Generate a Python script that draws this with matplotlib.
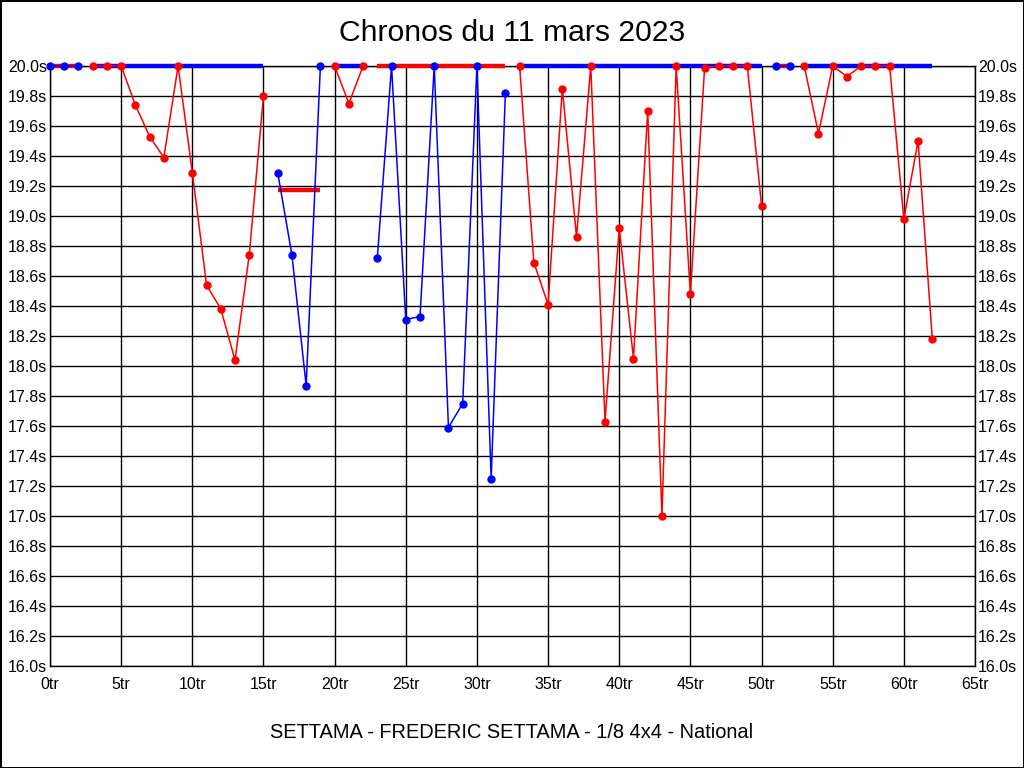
import matplotlib
matplotlib.use('Agg')
import matplotlib.pyplot as plt
import numpy as np
from matplotlib.ticker import MultipleLocator, FuncFormatter

plt.rcParams['font.family'] = ['Liberation Sans', 'DejaVu Sans']

# temps par tour (s), couleur de la manche
tours = list(range(63))
temps = [20.0, 20.0, 20.0, 20.0, 20.0, 20.0, 19.74, 19.53, 19.39, 20.0,
         19.29, 18.54, 18.38, 18.04, 18.74, 19.80, 19.29, 18.74, 17.87, 20.0,
         20.0, 19.75, 20.0, 18.72, 20.0, 18.31, 18.33, 20.0, 17.59, 17.75,
         20.0, 17.25, 19.82, 20.0, 18.69, 18.41, 19.85, 18.86, 20.0, 17.63,
         18.92, 18.05, 19.70, 17.0, 20.0, 18.48, 19.99, 20.0, 20.0, 20.0,
         19.07, 20.0, 20.0, 20.0, 19.55, 20.0, 19.93, 20.0, 20.0, 20.0,
         18.98, 19.50, 18.18]
couleurs = ['b'] * 3 + ['r'] * 13 + ['b'] * 4 + ['r'] * 3 + ['b'] * 10 + \
           ['r'] * 18 + ['b'] * 2 + ['r'] * 10
# valeur du trait epais pour chaque manche
moyennes = [20.0, 20.0, 19.17, 20.0, 20.0, 20.0, 20.0, 20.0]

coul_map = {'r': '#ff0000', 'b': '#0000ff'}
autre = {'r': '#0000ff', 'b': '#ff0000'}

fig = plt.figure(figsize=(10.24, 7.68), dpi=100)
fig.patch.set_edgecolor('black')
fig.patch.set_linewidth(2)
ax = fig.add_axes([50 / 1024, 102 / 768, 925 / 1024, 600 / 768])

# decoupage en manches
manches = []
debut = 0
for i in range(1, len(tours) + 1):
    if i == len(tours) or couleurs[i] != couleurs[debut]:
        manches.append((debut, i))
        debut = i

for k, (a, b) in enumerate(manches):
    c = couleurs[a]
    ax.plot([tours[a], tours[b - 1]], [moyennes[k], moyennes[k]],
            color=autre[c], lw=3.2, solid_capstyle='butt', zorder=3,
            clip_on=False)
for k, (a, b) in enumerate(manches):
    c = couleurs[a]
    ax.plot(tours[a:b], temps[a:b], color=coul_map[c], lw=1.1,
            marker='o', ms=5, zorder=4, clip_on=False)

ax.set_xlim(0, 65)
ax.set_ylim(16.0, 20.0)
ax.xaxis.set_major_locator(MultipleLocator(5))
ax.yaxis.set_major_locator(MultipleLocator(0.2))
ax.xaxis.set_major_formatter(FuncFormatter(lambda v, p: '%dtr' % round(v)))
ax.yaxis.set_major_formatter(FuncFormatter(lambda v, p: '%.1fs' % v))
ax.grid(True, color='black', lw=1)
ax.set_axisbelow(True)
ax.tick_params(length=0, labelsize=11.5, pad=2)
ax.tick_params(axis='y', right=True, labelright=True)
ax.tick_params(axis='x', pad=8)
for s in ax.spines.values():
    s.set_linewidth(1)

fig.text(0.5, 1 - 33 / 768, 'Chronos du 11 mars 2023', ha='center', va='center',
         fontsize=21.7)
fig.text(0.5, 1 - 733 / 768, 'SETTAMA - FREDERIC SETTAMA - 1/8 4x4 - National',
         ha='center', va='center', fontsize=14.4)

fig.savefig('out.png', dpi=100, edgecolor=fig.get_edgecolor())
